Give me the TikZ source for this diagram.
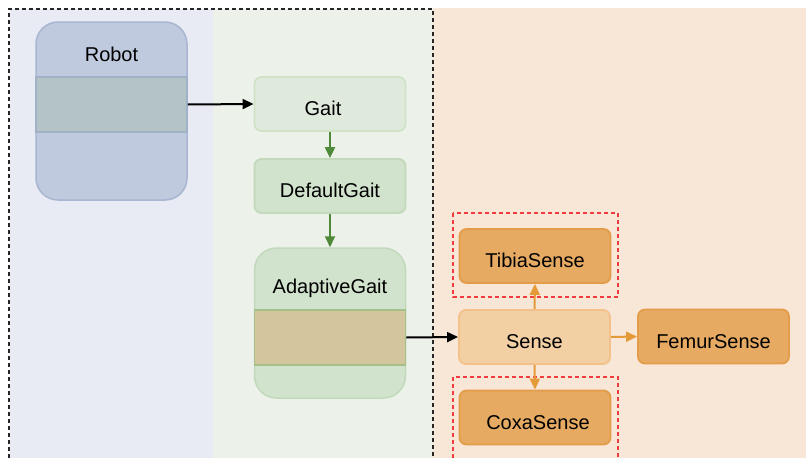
\documentclass[tikz,border=0pt]{standalone}
\usepackage{fontspec}
\setmainfont{Liberation Sans}
\usetikzlibrary{arrows.meta}

% panel backgrounds
\definecolor{bgblue}{HTML}{E8EBF4}
\definecolor{bggreen}{HTML}{ECF1EA}
\definecolor{bgorange}{HTML}{F8E6D6}
% robot container
\definecolor{robotfill}{HTML}{C0CADE}
\definecolor{robotline}{HTML}{A8B6D2}
\definecolor{robotband}{HTML}{B4C3C6}
\definecolor{robotbandline}{HTML}{A0B1C8}
% gait classes
\definecolor{gaitfill}{HTML}{DFE9DC}
\definecolor{gaitline}{HTML}{D0E3C9}
\definecolor{defgaitfill}{HTML}{D1E2CD}
\definecolor{defgaitline}{HTML}{C2D9BB}
\definecolor{gaitband}{HTML}{D3C69C}
\definecolor{gaitbandline}{HTML}{A6C08A}
\definecolor{gaitarrow}{HTML}{4F8A3A}
% sensing classes
\definecolor{sensefill}{HTML}{F3CFA4}
\definecolor{senseline}{HTML}{F2C28A}
\definecolor{subfill}{HTML}{E6AA62}
\definecolor{subline}{HTML}{E39C49}
\definecolor{sensearrow}{HTML}{E59A3A}
\definecolor{groupred}{HTML}{F03C3C}

\begin{document}
\begin{tikzpicture}[x=1pt,y=-1pt,
  every node/.style={font=\fontsize{20}{24}\selectfont, text=black, inner sep=0pt},
  classbox/.style={rounded corners=7pt, line width=1.8pt, minimum width=151pt, minimum height=54pt,
    text height=23pt, text depth=0pt},
  boxtext/.style={text height=23pt, text depth=0pt},
  container/.style={rounded corners=22pt, line width=1.5pt, minimum width=151pt},
  band/.style={rectangle, line width=1.5pt, minimum width=151pt, minimum height=55pt},
  title/.style={anchor=base},
  link/.style={line width=2pt, -{Triangle[length=11pt,width=10pt]}},
  grouping/.style={groupred, line width=1.2pt, dash pattern=on 4pt off 3pt}
]
\useasboundingbox (0,0) rectangle (806,458);

% swimlane panels
\fill[bgblue] (10,9) rectangle (213,458);
\fill[bggreen] (213,9) rectangle (433,458);
\fill[bgorange] (433,8) rectangle (806,458);
\draw[black!85, line width=1.3pt, dash pattern=on 4pt off 3pt]
  (9,458) -- (9,9) -- (433,9) -- (433,458);

% robot container
\node[container, draw=robotline, fill=robotfill, minimum height=178pt] (robot) at (111.5,111) {};
\node[band, draw=robotbandline, fill=robotband] (robotslot) at (111.5,104.5) {};
\node[title] (robottitle) at (111.5,61) {Robot};

% gait hierarchy
\node[classbox, draw=gaitline, fill=gaitfill] (gait) at (330,104) {};
\node[boxtext] (gaittext) at ([xshift=-7pt]gait.center) {Gait};
\node[classbox, draw=defgaitline, fill=defgaitfill] (defgait) at (330,186) {DefaultGait};
\node[container, draw=defgaitline, fill=defgaitfill, minimum height=150pt] (adapt) at (330,323) {};
\node[band, draw=gaitbandline, fill=gaitband] (adaptslot) at (330,337.5) {};
\node[title] (adapttitle) at (330,293) {AdaptiveGait};

% sensing hierarchy
\node[classbox, draw=senseline, fill=sensefill] (sense) at (534.5,337) {Sense};
\node[classbox, draw=subline, fill=subfill] (tibia) at (535,256) {TibiaSense};
\node[classbox, draw=subline, fill=subfill] (coxa) at (535,417.5) {};
\node[boxtext] (coxatext) at ([xshift=3pt]coxa.center) {CoxaSense};
\node[classbox, draw=subline, fill=subfill] (femur) at (713.5,336.5) {FemurSense};

% leg-part groupings
\draw[grouping] (453,213) rectangle (618,297);
\draw[grouping] (453,458) -- (453,377) -- (618,377) -- (618,458);

% connectors
\draw[link, black] (robotslot.east) -- (gait.west);
\draw[link, gaitarrow] (gait.south) -- (defgait.north);
\draw[link, gaitarrow] (defgait.south) -- (adapt.north);
\draw[link, black] (adaptslot.east) -- (sense.west);
\draw[link, sensearrow] (sense.north) -- (tibia.south);
\draw[link, sensearrow] (sense.south) -- (coxa.north);
\draw[link, sensearrow] (sense.east) -- (femur.west);
\end{tikzpicture}
\end{document}
